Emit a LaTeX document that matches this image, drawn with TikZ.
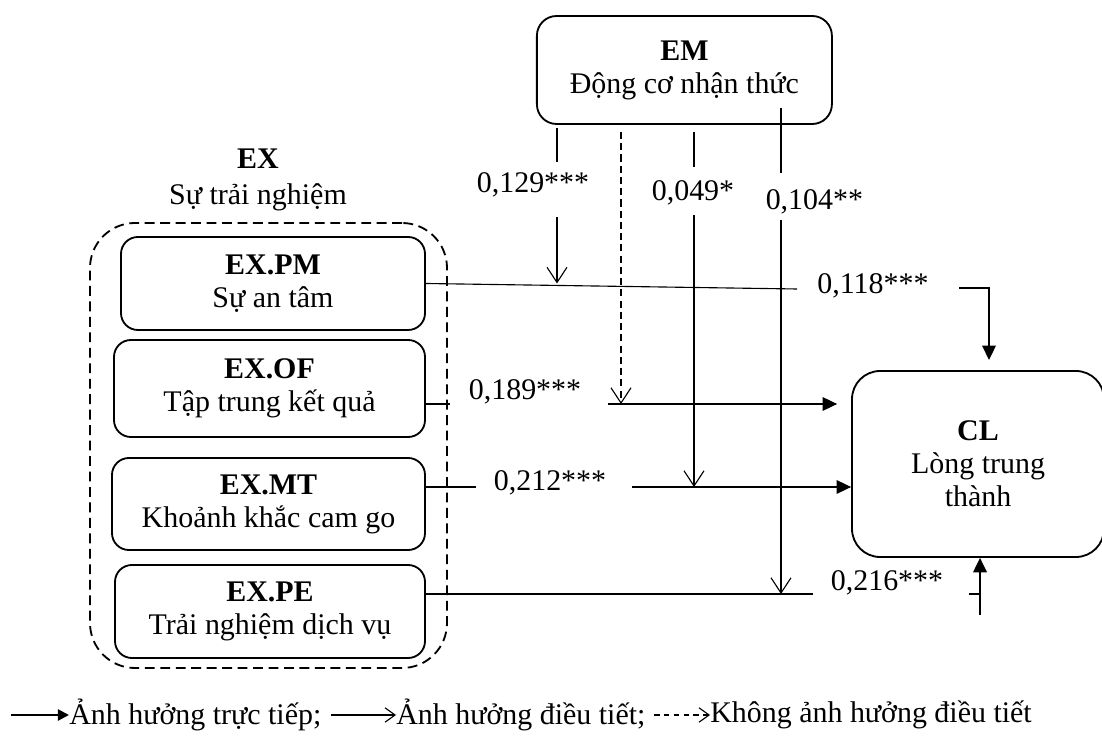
\documentclass[tikz,border=0pt]{standalone}
\usepackage{fontspec}
\setmainfont{Liberation Serif}
\usetikzlibrary{arrows.meta,positioning,calc}

\begin{document}
\begin{tikzpicture}[
  entity/.style={
    draw, rectangle, line width=1.3pt, rounded corners=12pt,
    align=center, font=\fontsize{21.3}{23.5}\selectfont
  },
  group/.style={
    draw, rectangle, line width=1.3pt, rounded corners=32pt,
    dash pattern=on 7pt off 4pt
  },
  coef/.style={font=\fontsize{21.3}{25}\selectfont, inner sep=0pt},
  link/.style={line width=0.8pt},
  direct/.style={-{Triangle[length=3.6mm,width=3.4mm]}, line width=0.8pt},
  moder/.style={-{Straight Barb[length=3.8mm,width=5mm]}, line width=0.8pt},
  nomoder/.style={moder, dash pattern=on 5pt off 3pt}
]
\useasboundingbox (0,0) rectangle (27.55,18.45);

% constructs
\node[entity, minimum width=7.375cm, minimum height=2.7cm, rounded corners=14pt] (em) at (17.11,16.70) {\textbf{EM}\\Động cơ nhận thức};
\node[coef, align=center] (exlabel) at (6.45,13.95) {\textbf{EX}\\Sự trải nghiệm};
\node[group, minimum width=8.925cm, minimum height=11.125cm] (ex) at (6.7125,7.3125) {};
\node[entity, minimum width=7.6cm, minimum height=2.325cm] (pm) at (6.825,11.3625) {\textbf{EX.PM}\\Sự an tâm};
\node[entity, minimum width=7.775cm, minimum height=2.425cm] (of) at (6.7375,8.7375) {\textbf{EX.OF}\\Tập trung kết quả};
\node[entity, minimum width=7.825cm, minimum height=2.3cm] (mt) at (6.7125,5.85) {\textbf{EX.MT}\\Khoảnh khắc cam go};
\node[entity, minimum width=7.75cm, minimum height=2.325cm] (pe) at (6.75,3.1625) {\textbf{EX.PE}\\Trải nghiệm dịch vụ};
\node[entity, minimum width=6.3cm, minimum height=4.65cm, rounded corners=20pt] (cl) at (24.45,6.85) {\textbf{CL}\\Lòng trung\\thành};

% coefficients
\node[coef] (c129) at (13.325,13.825) {0,129***};
\node[coef] (c049) at (17.325,13.625) {0,049*};
\node[coef] (c104) at (20.36,13.4)    {0,104**};
\node[coef] (c118) at (21.825,11.3)   {0,118***};
\node[coef] (c189) at (13.125,8.65)   {0,189***};
\node[coef] (c212) at (13.75,6.375)   {0,212***};
\node[coef] (c216) at (22.175,3.875)  {0,216***};

% EX.PM -> CL
\coordinate (pmend) at (19.925,11.225);
\coordinate (k118) at (23.975,11.25);
\coordinate (t118) at (24.725,9.45);
\draw[link] (pm.east) -- (pmend);
\draw[direct, line width=1.1pt] (k118) -| (t118);

% EX.OF -> CL
\coordinate (of1) at (11.25,8.35);
\coordinate (of2) at (15.2,8.35);
\draw[link] (of.east |- of1) -- (of1);
\draw[direct, shorten >=0.35cm] (of2) -- (of2 -| cl.west);

% EX.MT -> CL
\coordinate (mt1) at (11.9,6.275);
\coordinate (mt2) at (15.8,6.275);
\draw[link] (mt.east |- mt1) -- (mt1);
\draw[direct] (mt2) -- (mt2 -| cl.west);

% EX.PE -> CL
\coordinate (pe1) at (20.325,3.6);
\coordinate (pe2) at (24.225,3.6);
\coordinate (pe3) at (24.5,3.075);
\draw[link] (pe.east |- pe1) -- (pe1);
\draw[link] (pe2) -- (pe2 -| pe3);
\draw[direct, line width=1.1pt] (pe3) -- (pe3 |- cl.south);

% EM moderation
\coordinate (m1a) at (13.925,15.25);
\coordinate (m1b) at (13.925,14.4);
\coordinate (m1c) at (13.925,13.025);
\draw[link] (m1a) -- (m1b);
\draw[moder] (m1c) -- (m1c |- pm.east);

\coordinate (m2a) at (15.525,15.15);
\draw[nomoder] (m2a) -- (m2a |- of2);

\coordinate (m3a) at (17.35,15.15);
\coordinate (m3b) at (17.35,14.275);
\coordinate (m3c) at (17.35,13.075);
\draw[link] (m3a) -- (m3b);
\draw[moder] (m3c) -- (m3c |- mt2);

\coordinate (m4a) at (19.525,15.75);
\coordinate (m4b) at (19.525,14.125);
\coordinate (m4c) at (19.525,12.95);
\draw[link] (m4a) -- (m4b);
\draw[moder] (m4c) -- (m4c |- pe1);

% legend
\coordinate (lg1) at (0.275,0.575);
\node[coef, anchor=west] (lgtext1) at (1.725,0.575) {Ảnh hưởng trực tiếp;};
\draw[-{Triangle[length=2.8mm,width=2.8mm]}, line width=1.6pt] (lg1) -- (lgtext1.west);
\coordinate (lg2) at (8.275,0.575);
\node[coef, anchor=west] (lgtext2) at (9.9,0.575) {Ảnh hưởng điều tiết;};
\draw[-{Straight Barb[length=2.5mm,width=3.6mm]}, line width=0.8pt] (lg2) -- (lgtext2.west);
\coordinate (lg3) at (16.35,0.575);
\node[coef, anchor=west] (lgtext3) at (17.75,0.575) {Không ảnh hưởng điều tiết};
\draw[-{Straight Barb[length=2.5mm,width=3.6mm]}, line width=0.8pt, dash pattern=on 4pt off 3pt] (lg3) -- (lgtext3.west);

\end{tikzpicture}
\end{document}
